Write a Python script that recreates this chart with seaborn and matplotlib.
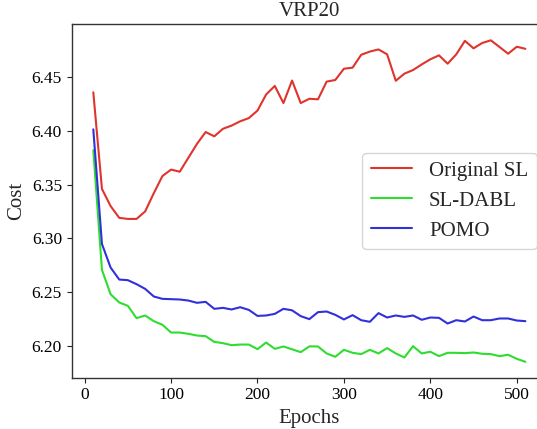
import numpy as np
import pandas as pd
import matplotlib
matplotlib.use("Agg")
import matplotlib.pyplot as plt
import seaborn as sns

epochs = list(range(10, 520, 10))

original_sl = [6.436, 6.346, 6.330, 6.319, 6.318, 6.318, 6.325, 6.342, 6.358, 6.364,
               6.362, 6.375, 6.388, 6.399, 6.395, 6.402, 6.405, 6.409, 6.412, 6.419,
               6.434, 6.442, 6.426, 6.447, 6.426, 6.430, 6.4295, 6.446, 6.4475, 6.458,
               6.459, 6.471, 6.474, 6.476, 6.4714, 6.4468, 6.4534, 6.4568, 6.462, 6.4668,
               6.4705, 6.4627, 6.4714, 6.484, 6.477, 6.482, 6.4845, 6.4783, 6.472, 6.4785,
               6.4766]

sl_dabl = [6.382, 6.2705, 6.2478, 6.2401, 6.2370, 6.2255, 6.2280, 6.2227, 6.2193, 6.2121,
           6.2121, 6.2109, 6.2093, 6.2087, 6.2034, 6.2022, 6.2003, 6.2009, 6.2009, 6.1966,
           6.2028, 6.1969, 6.1991, 6.1965, 6.1938, 6.1992, 6.1991, 6.1926, 6.1895, 6.1960,
           6.1932, 6.1920, 6.1960, 6.1926, 6.1976, 6.1926, 6.1889, 6.1994, 6.1926, 6.1942,
           6.1901, 6.1932, 6.1932, 6.1929, 6.1935, 6.1923, 6.1920, 6.1901, 6.1914, 6.1876,
           6.1848]

pomo = [6.4015, 6.2947, 6.2727, 6.2615, 6.2609, 6.2572, 6.2528, 6.2457, 6.2435, 6.2432,
        6.2429, 6.2419, 6.2398, 6.2407, 6.2342, 6.2351, 6.2336, 6.2357, 6.2332, 6.2276,
        6.2280, 6.2295, 6.2342, 6.2328, 6.2274, 6.2246, 6.2311, 6.2317, 6.2286, 6.2243,
        6.2283, 6.2236, 6.2221, 6.2302, 6.2261, 6.2280, 6.2267, 6.2280, 6.2240, 6.2261,
        6.2258, 6.2205, 6.2236, 6.2224, 6.2270, 6.2236, 6.2236, 6.2252, 6.2252, 6.2233,
        6.2227]

series_names = ["Original SL", "SL-DABL", "POMO"]
colors = ["#e0332c", "#2fdd2f", "#3030dd"]

df = pd.DataFrame({
    "Epochs": epochs * 3,
    "Cost": original_sl + sl_dabl + pomo,
    "Method": [series_names[0]] * len(epochs) + [series_names[1]] * len(epochs) + [series_names[2]] * len(epochs),
})

sns.set_style("ticks")
plt.rcParams["font.family"] = ["Liberation Serif", "DejaVu Serif"]

fig = plt.figure(figsize=(5.37, 4.29), dpi=100)
ax = fig.add_axes([71.7 / 537, 1 - 377.7 / 429, (547 - 71.7) / 537, (377.7 - 24) / 429])

sns.lineplot(data=df, x="Epochs", y="Cost", hue="Method", palette=colors,
             hue_order=series_names, linewidth=1.5, ax=ax)

ax.set_ylim(6.170, 6.4997)
ax.set_xlim(-15, 535)
ax.set_xticks([0, 100, 200, 300, 400, 500])
ax.set_yticks([6.20, 6.25, 6.30, 6.35, 6.40, 6.45])
ax.set_yticklabels(["6.20", "6.25", "6.30", "6.35", "6.40", "6.45"])
ax.tick_params(labelsize=12.5, length=3.5, width=0.8, colors="#222222", labelcolor="black")
ax.set_xlabel("Epochs", fontsize=15)
ax.set_ylabel("Cost", fontsize=15)
ax.set_title("VRP20", fontsize=15)
for s in ax.spines.values():
    s.set_linewidth(1.0)
    s.set_color("#333333")

leg = ax.legend(loc="center right", fontsize=15, frameon=True)
leg.set_title(None)

fig.savefig("out.png", dpi=100)
